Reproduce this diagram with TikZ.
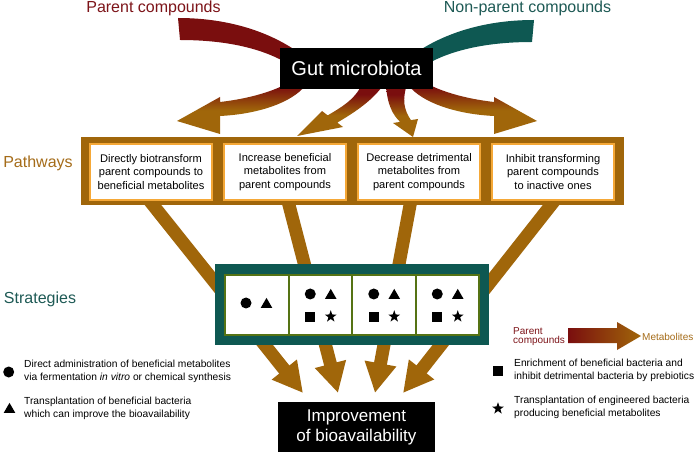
\documentclass[tikz,border=0pt]{standalone}
\usepackage{fontspec}
\setmainfont{Liberation Sans}
\usetikzlibrary{arrows.meta,shapes.geometric}
\definecolor{dred}{RGB}{122,14,14}
\definecolor{brn}{RGB}{160,102,10}
\definecolor{teal1}{RGB}{14,88,82}
\definecolor{tealtxt}{RGB}{30,90,85}
\definecolor{orng}{RGB}{245,168,55}
\definecolor{olive}{RGB}{85,115,20}
\definecolor{redtxt}{RGB}{125,20,25}
\definecolor{brntxt}{RGB}{165,108,25}
\pgfdeclareverticalshading{redbrown}{100bp}{color(0bp)=(brn); color(25bp)=(brn); color(45bp)=(brn); color(65bp)=(dred); color(75bp)=(dred); color(100bp)=(dred)}
\begin{document}
\begin{tikzpicture}[x=1pt,y=-1pt,
  lab/.style={inner sep=0, font=\fontsize{16}{19}\selectfont},
  pbox/.style={fill=white, draw=orng, line width=1.8pt, minimum width=122pt, minimum height=56pt, inner sep=0, align=center, font=\fontsize{11.1}{13.5}\selectfont},
  sbox/.style={fill=white, draw=olive, line width=2pt, minimum width=63.5pt, minimum height=60pt, inner sep=0},
  legt/.style={inner sep=0, align=left, font=\fontsize{10.25}{13}\selectfont},
  symc/.style={circle, fill=black, inner sep=0, minimum size=11pt},
  symt/.style={regular polygon, regular polygon sides=3, fill=black, inner sep=0, minimum size=13.5pt},
  syms/.style={rectangle, fill=black, inner sep=0, minimum size=10pt},
  symstar/.style={star, star points=5, star point ratio=2.5, fill=black, inner sep=0, minimum size=12.5pt},
  bigarrow/.style={brn, line width=13pt, -{Triangle[width=30pt,length=30pt]}}
]
\useasboundingbox (0,0) rectangle (696,454);
\fill[white] (0,0) rectangle (696,454);

% input bands
\fill[dred] (178,18) .. controls (225,18) and (265,30) .. (295,50) -- (285,62) .. controls (260,48) and (225,40) .. (180,40) -- cycle;
\fill[teal1] (534,20) .. controls (487,20) and (447,32) .. (417,52) -- (427,64) .. controls (452,50) and (487,42) .. (532,42) -- cycle;

% gradient arrows from gut microbiota
\shade[shading=redbrown] (300,75) .. controls (285,88) and (255,98) .. (220,102) -- (220,97) -- (177,121) -- (220,134) -- (220,116) .. controls (260,114) and (292,102) .. (305,86) -- cycle;
\shade[shading=redbrown] (362,84) .. controls (355,100) and (340,108) .. (327.7,115.4) -- (322,111) -- (297,136) -- (343,127) -- (337.3,122.6) .. controls (350,115) and (372,102) .. (384,84) -- cycle;
\shade[shading=redbrown] (386,84) .. controls (387,105) and (393,115) .. (400.1,121.9) -- (393,123) -- (413,137) -- (418,119) -- (410.9,120.1) .. controls (404,110) and (402,100) .. (407,84) -- cycle;
\shade[shading=redbrown] (414,75) .. controls (429,88) and (459,98) .. (494,102) -- (494,97) -- (537,121) -- (494,134) -- (494,116) .. controls (454,114) and (422,102) .. (409,86) -- cycle;

\node[fill=black, text=white, minimum width=153pt, minimum height=41pt, inner sep=0, font=\fontsize{20}{24}\selectfont] (gut) at (356.5,68.5) {Gut microbiota};

% straight arrows pathways -> improvement
\coordinate (a1s) at (145,195);   \coordinate (a1e) at (303,393);
\coordinate (a2s) at (286.4,195); \coordinate (a2e) at (338,393);
\coordinate (a3s) at (411.9,195); \coordinate (a3e) at (375,393);
\coordinate (a4s) at (558.9,195); \coordinate (a4e) at (403,393);
\draw[bigarrow] (a1s) -- (a1e);
\draw[bigarrow] (a2s) -- (a2e);
\draw[bigarrow] (a3s) -- (a3e);
\draw[bigarrow] (a4s) -- (a4e);

% pathways
\fill[brn] (81,137) rectangle (624,205);
\node[pbox] (pw1) at (151,172) {Directly biotransform\\parent compounds to\\beneficial metabolites};
\node[pbox] (pw2) at (285,172) {Increase beneficial\\metabolites from\\parent compounds};
\node[pbox] (pw3) at (419,172) {Decrease detrimental\\metabolites from\\parent compounds};
\node[pbox] (pw4) at (553,172) {Inhibit transforming\\parent compounds\\to inactive ones};

% strategies
\fill[teal1] (215,264) rectangle (489,345);
\node[sbox] (st1) at (256.75,305) {};
\node[sbox] (st2) at (320.25,305) {};
\node[sbox] (st3) at (383.75,305) {};
\node[sbox] (st4) at (447.25,305) {};
\node[symc] (s1c) at (246,303) {};
\node[symt] (s1t) at (266.5,304.6) {};
\foreach \c/\n in {320.25/2,383.75/3,447.25/4}{
  \node[symc] (s\n c) at (\c-10,294) {};
  \node[symt] (s\n t) at (\c+10.5,295.6) {};
  \node[syms] (s\n s) at (\c-10,316.7) {};
  \node[symstar] (s\n x) at (\c+10.5,316.5) {};
}

% improvement
\node[fill=black, text=white, minimum width=157pt, minimum height=50pt, inner sep=0, align=center, font=\fontsize{17}{20}\selectfont] (imp) at (356.5,427) {Improvement\\of bioavailability};

% labels
\node[lab, text=redtxt] (pc) at (153.5,8.5) {Parent compounds};
\node[lab, text=tealtxt] (npc) at (527.5,8.5) {Non-parent compounds};
\node[lab, text=brntxt] (pwl) at (38,163) {Pathways};
\node[lab, text=tealtxt] (stl) at (40,299) {Strategies};

% legend
\node[symc] (lc) at (8.7,372) {};
\node[legt, anchor=west] (lct) at (24,371.5) {Direct administration of beneficial metabolites\\via fermentation \textit{in vitro} or chemical synthesis};
\node[symt] (lt) at (9.5,409.6) {};
\node[legt, anchor=west] (ltt) at (24,408) {Transplantation of beneficial bacteria\\which can improve the bioavailability};
\node[syms] (ls) at (498.3,371) {};
\node[legt, anchor=west] (lst) at (514,370.5) {Enrichment of beneficial bacteria and\\inhibit detrimental bacteria by prebiotics};
\node[symstar] (lx) at (498,408.5) {};
\node[legt, anchor=west] (lxt) at (514,407.5) {Transplantation of engineered bacteria\\producing beneficial metabolites};

% gradient legend
\node[inner sep=0, anchor=west, align=left, text=redtxt, font=\fontsize{10}{9}\selectfont] (pcl) at (513,337) {Parent\\compounds};
\shade[left color=dred, right color=brn] (568,328) -- (617,328) -- (617,322) -- (641,336) -- (617,350) -- (617,343) -- (568,343) -- cycle;
\node[inner sep=0, anchor=west, text=brntxt, font=\fontsize{10}{12}\selectfont] (metl) at (642,337) {Metabolites};
\end{tikzpicture}
\end{document}
